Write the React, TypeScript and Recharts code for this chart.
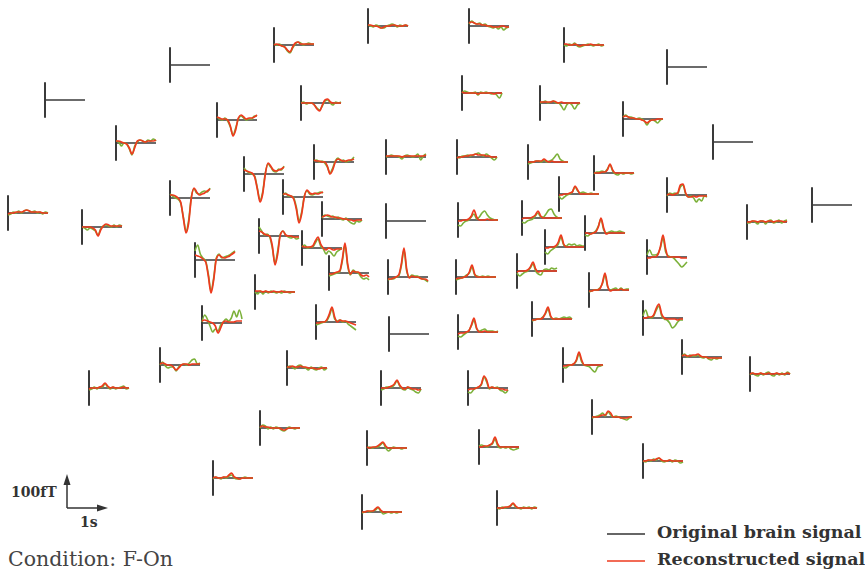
import React from 'react';
import { LineChart, Line, XAxis, YAxis, ReferenceLine } from 'recharts';

// sensor anchor = where the vertical axis meets the baseline (page px)
const sensorX = [
  45, 170, 274, 368, 469, 564, 667, 116, 217, 301, 462, 540, 623, 713,
  244, 170, 283, 314, 386, 457, 528, 559, 594, 667, 812, 8, 82, 322,
  386, 458, 522, 747, 259, 302, 545, 585, 195, 329, 388, 456, 517, 647,
  255, 589, 202, 316, 389, 458, 532, 643, 160, 89, 287, 381, 468, 563,
  682, 750, 260, 367, 479, 592, 643, 213, 362, 497,
];
const sensorY = [
  100, 65, 45, 26, 26, 45, 67, 143, 120, 103, 93, 103, 119, 142,
  174, 198, 197, 162, 157, 157, 162, 194, 173, 195, 205, 213, 227, 219,
  221, 220, 218, 222, 236, 248, 247, 233, 260, 273, 277, 277, 271, 257,
  292, 290, 323, 322, 334, 332, 319, 318, 365, 388, 368, 388, 388, 365,
  357, 374, 428, 448, 447, 417, 461, 478, 512, 508,
];

// original brain signal (fT), 16 samples over 1 s
const originalTraces: (number[] | null)[] = [
  null,
  null,
  [3, 0, 3, -3, -6, -18, -24, -9, 3, 9, 6, 0, 3, 6, 3, 3],
  [3, 0, -3, 3, 0, -6, -6, 0, 3, 6, 3, -3, 3, 0, 3, 0],
  [6, 15, 9, 6, 9, 3, 6, 0, -3, -6, -3, -9, -3, -12, -6, -3],
  [0, -3, 3, 0, 6, -3, -6, -3, 0, 3, 0, -3, 0, 3, -3, 0],
  null,
  [6, 3, -9, 0, -3, -18, -36, -9, 3, 9, 6, 3, 9, 6, 12, 6],
  [9, 3, 0, 6, -3, -21, -45, -24, 3, 12, 6, 0, 3, 3, 12, 12],
  [0, 3, -3, 0, 0, -6, -15, -21, -9, 6, 9, 0, -6, 3, 0, 3],
  [0, 6, 3, 0, 0, 3, -6, 3, 0, 3, 0, -3, 0, -6, -15, 0],
  [0, 3, 6, 0, 3, 6, 0, 0, -9, -21, -6, 0, -6, -18, -6, 0],
  [6, 12, 6, 6, 3, 0, 3, 0, -6, -18, -6, -3, -6, -12, -3, 0],
  null,
  [18, 9, 3, 0, -6, -42, -78, -54, 3, 30, 21, 9, 6, 15, 12, 24],
  [12, 6, 0, -3, -15, -57, -99, -66, 3, 27, 15, 12, 18, 21, 18, 30],
  [6, 12, 3, 3, -3, -30, -72, -45, 3, 18, 9, 6, 9, 12, 15, 12],
  [3, 6, 0, 3, -3, -15, -33, -18, 3, 12, 3, 6, 0, 3, 6, 15],
  [0, 3, 6, 3, 3, 0, -6, 3, 6, 3, 0, 3, 9, -9, 3, 9],
  [0, -3, 3, 3, 6, 3, 6, 9, 12, 6, 3, 9, 3, -3, -9, 0],
  [-6, -3, 0, 3, 3, 0, 6, 0, 3, 6, 15, 24, 9, 3, 0, 0],
  [-6, -15, -9, -3, 0, 6, 21, 9, 3, 6, 3, 0, 3, 0, 0, 0],
  [-3, 3, 3, 6, 3, 12, 24, 6, -3, -6, 0, -3, 0, 0, -3, 0],
  [-3, 6, 3, 6, 3, 24, 30, 3, -6, -3, -9, -21, -12, -18, -3, -6],
  null,
  [-6, -3, 3, 0, 6, 0, 6, 9, 6, 3, 6, 0, 3, -3, 3, 0],
  [0, -3, -9, -3, -6, -12, -24, -6, 3, 6, 3, 0, 6, 0, 6, 3],
  [3, 12, 9, 6, 9, 3, 6, 0, -3, 3, -6, -12, -15, -6, -9, -3],
  null,
  [-15, -18, -9, -3, 0, 9, 18, 3, 9, 21, 27, 15, 6, 3, 0, 0],
  [-12, -15, -9, -6, -3, 6, 15, 3, 3, 12, 24, 27, 12, 3, 0, 0],
  [-3, -3, 3, 0, -6, 3, 3, -6, 3, 6, -3, 0, 6, -3, 3, 6],
  [27, 15, 3, 6, -3, -36, -81, -45, 6, 15, 3, -3, -6, -3, -9, -6],
  [3, 9, 0, 3, 3, 15, 27, 6, -3, -18, -9, -15, -24, -12, -6, 0],
  [-15, -21, -12, -6, 0, 9, 30, 6, 3, 9, 6, 9, 3, 6, 3, 3],
  [-6, -9, -3, 0, 6, 21, 42, 9, 0, 3, 6, 3, 3, 6, 3, 0],
  [27, 45, 18, 6, -3, -42, -93, -54, 6, 18, 6, 9, 12, 15, 21, 27],
  [-9, -6, -3, 0, 3, 36, 84, 21, -6, 9, 3, 0, -12, -18, -15, -21],
  [-9, -6, -6, 0, 3, 33, 81, 18, 0, 6, 3, 3, -3, -6, -9, -15],
  [-9, -6, -3, 0, 6, 12, 30, 6, 3, 0, 3, 0, 3, 0, 0, 0],
  [-6, -15, -9, -3, 0, 9, 21, 0, -9, -12, 3, 6, 3, 9, 6, 9],
  [6, 21, 6, 6, 9, 27, 57, 15, 3, 0, -3, -12, -21, -30, -24, -15],
  [0, -6, 3, -6, 3, -3, 3, 0, -3, 0, -3, 3, 0, -3, 0, 0],
  [-6, -3, 0, 0, 6, 18, 45, 9, 0, 3, 6, 0, 6, 0, 3, 3],
  [3, 24, 12, -9, -27, -18, -24, -6, 3, 12, 6, 15, 36, 18, 39, 12],
  [-9, -6, -3, 0, 3, 18, 39, 9, 3, 6, 0, 3, -6, -12, -18, -24],
  null,
  [-12, -15, -9, -3, 3, 18, 36, 9, 3, 6, 9, 3, 3, 3, 0, 3],
  [-6, -3, 0, 0, 6, 15, 30, 6, 0, 3, 0, 3, 6, 3, 6, 0],
  [6, 24, 3, 0, 6, 24, 36, 6, -3, -6, -15, -30, -24, -12, -6, -6],
  [0, 9, -3, -9, -6, -6, -18, -6, 0, 3, 0, 6, 15, 18, 3, 6],
  [-6, -3, 3, -3, 3, 3, 12, 3, -3, 3, -3, 0, 3, 6, -3, 0],
  [0, 6, 3, -3, 6, 9, 3, 0, -6, 3, -3, -6, 0, 3, -6, 0],
  [-6, -3, 3, 3, 3, 9, 21, 6, -3, -6, 3, -3, -6, -12, -15, -3],
  [-12, -15, -6, 0, 3, 9, 33, 18, -3, 3, 0, 3, -6, -9, -15, -6],
  [-6, -9, -3, 0, 3, 12, 33, 9, 0, -3, -6, -15, -21, -6, -3, 0],
  [3, 9, 0, 6, 3, 3, 6, 0, -3, 0, -6, -9, -3, -6, -3, -3],
  [-3, 3, -3, -6, 3, -3, 3, 6, -3, -6, 3, -3, 3, -3, 6, 0],
  [0, 9, 6, -3, 3, -3, 3, 0, -6, -9, -3, 3, 0, -3, 0, 0],
  [0, 3, 0, 3, 3, 9, 15, 0, -9, -3, 3, 0, 0, -3, 0, 0],
  [3, 6, 3, 0, 6, 9, 24, 3, -3, 0, -3, 0, -6, -9, -6, -3],
  [-3, 0, 3, 6, 12, 3, 15, 6, 0, 3, 0, -3, -6, -9, -3, 0],
  [0, -3, 3, 0, 6, 3, 9, 0, -3, 0, 3, -3, 3, 0, -6, -3],
  [-3, 3, 0, -3, 3, 0, 6, 9, 0, -3, -3, 0, 3, 0, 0, 0],
  [-3, 0, 3, 0, 3, 6, 12, 3, -6, -3, 0, -3, 0, -3, 0, 0],
  [0, -3, 3, 0, 3, 6, 12, 3, 0, -3, 3, 0, 3, -3, 3, 0],
];

// reconstructed signal (fT)
const reconstructedTraces: (number[] | null)[] = [
  null,
  null,
  [0, 3, 0, -3, -6, -15, -21, -6, 6, 9, 3, 3, 3, 3, 3, 3],
  [3, 3, 0, 0, -3, -6, -3, 0, 0, 3, 3, 0, 0, 0, 3, 0],
  [9, 12, 9, 6, 6, 3, 3, 0, 0, -3, -3, -3, 0, 0, -3, -3],
  [3, 3, 0, 0, 3, 0, -3, 0, 0, 0, 3, 0, 0, 0, 0, 0],
  null,
  [6, 6, 3, 0, -3, -15, -33, -15, 6, 9, 6, 3, 6, 6, 6, 9],
  [9, 6, 3, 3, 0, -18, -48, -30, 6, 15, 9, 3, 6, 6, 9, 15],
  [0, 0, 0, 0, 0, -6, -18, -24, -6, 9, 12, 3, 0, 0, 0, 0],
  [3, 0, 0, 0, 0, 0, -3, 0, 0, 0, 0, 0, -3, 0, 0, 0],
  [3, 3, 3, 3, 3, 6, 3, 0, 3, 0, 0, 0, 0, 0, 0, 0],
  [6, 9, 6, 3, 3, 0, 0, -3, -6, -12, -6, -3, -3, 0, 0, 0],
  null,
  [12, 9, 6, 3, -9, -45, -84, -60, 0, 33, 24, 12, 9, 12, 15, 21],
  [9, 9, 6, 0, -12, -60, -105, -75, 0, 30, 18, 9, 12, 15, 21, 27],
  [9, 9, 6, 3, -6, -36, -78, -51, 0, 21, 12, 9, 12, 9, 12, 15],
  [6, 3, 3, 0, 0, -12, -36, -24, 0, 9, 6, 3, 3, 6, 6, 9],
  [3, 3, 3, 3, 3, 3, 0, 3, 3, 3, 3, 3, 3, 3, 3, 6],
  [-3, 0, 0, 3, 3, 6, 6, 9, 6, 6, 6, 3, 3, 0, 0, 0],
  [0, 0, 0, 3, 3, 3, 9, 3, 0, 3, 0, 0, 0, 0, 0, 0],
  [-3, -3, 0, 0, 3, 6, 24, 12, 0, 0, 0, 0, 0, 0, 0, 0],
  [0, 0, 0, 3, 3, 9, 27, 9, 0, 0, 0, 0, 0, 0, 0, 0],
  [0, 3, 0, 3, 6, 30, 33, 6, -6, -6, -3, -6, -3, -3, -3, -3],
  null,
  [-3, 0, 0, 3, 3, 3, 6, 9, 6, 3, 3, 3, 3, 0, 0, 0],
  [0, 0, 0, 0, -3, -9, -27, -9, 3, 9, 6, 3, 3, 3, 3, 3],
  [6, 9, 12, 9, 6, 6, 3, 3, 0, 0, -3, -3, -6, -3, -3, -3],
  null,
  [-3, -3, 0, 0, 3, 12, 30, 9, 0, 0, 0, 3, 0, 0, 0, 0],
  [-3, 0, 0, 0, 3, 9, 21, 6, 0, 0, 0, 0, 0, 0, 0, 0],
  [0, 0, 3, 3, 0, 3, 3, 0, 3, 3, 0, 3, 3, 3, 0, 3],
  [15, 12, 6, 3, 0, -30, -87, -54, 3, 15, 3, 0, 0, -3, -3, -3],
  [6, 3, 3, 3, 6, 21, 33, 12, 0, -6, 0, -3, -6, -3, -3, -3],
  [-3, -3, 0, 0, 3, 15, 36, 9, 0, 0, 0, 0, 0, 0, 0, 0],
  [0, 0, -3, 0, 3, 18, 45, 15, -3, 0, 0, 0, 0, 0, 0, 0],
  [15, 12, 9, 3, -6, -48, -99, -60, 3, 15, 9, 6, 9, 12, 18, 24],
  [-3, -3, 0, 3, 6, 42, 90, 27, -3, 6, 3, 3, -6, -9, -6, -12],
  [-6, -6, -3, 0, 6, 39, 87, 24, -3, 3, 0, 0, -3, -6, -6, -12],
  [-6, -3, -3, 0, 3, 15, 36, 9, 0, 0, 0, 0, 0, 0, 0, 0],
  [-3, 0, 0, 0, 3, 12, 27, 6, -3, 0, 0, 0, 0, 0, 0, 0],
  [-3, -3, 0, 0, 6, 30, 66, 24, 0, 0, 0, 0, 0, -3, -3, -3],
  [3, 3, 3, 0, 3, 0, 0, 3, 0, 0, 3, 0, 0, 0, 0, 0],
  [-3, -3, 0, 0, 3, 21, 51, 12, -3, 0, 0, 0, 3, 0, 0, 0],
  [6, 9, 6, 3, 0, -9, -30, -15, 3, 6, 3, 3, 3, 6, 6, 6],
  [-3, -3, 0, 0, 6, 24, 45, 15, 0, 6, 3, 3, 0, -3, -6, -9],
  null,
  [-6, -3, -3, 0, 3, 21, 42, 12, 0, 0, 3, 0, 0, 0, 0, 0],
  [-3, -3, 0, 0, 3, 18, 36, 9, 0, 0, 0, 0, 0, 0, 0, 0],
  [0, 0, 3, 3, 9, 30, 42, 12, 0, -3, -3, -3, -3, -6, -3, -3],
  [3, 6, 3, 0, 0, -6, -15, -9, 0, 3, 3, 0, 3, 3, 3, 3],
  [-3, 0, 0, 0, 3, 6, 15, 6, 0, 3, 0, 0, 0, 3, 0, 0],
  [3, 3, 6, 3, 3, 6, 3, 3, 0, 0, 0, -3, -3, 0, 0, 0],
  [0, 0, 0, 3, 6, 12, 24, 9, 0, -3, 3, 0, -3, -3, -6, -3],
  [-6, -3, -3, 0, 3, 12, 36, 24, 0, 3, 0, 0, -3, -3, -6, -6],
  [-3, -3, 0, 0, 3, 15, 39, 15, 0, 0, 0, 0, 0, 0, 0, 0],
  [3, 6, 3, 3, 6, 6, 9, 3, 0, 0, -3, -3, -3, -3, -3, -3],
  [0, 3, 0, 0, 3, 0, 0, 3, 0, 0, 3, 0, 0, 0, 3, 0],
  [3, 6, 3, 3, 0, 0, 0, 0, -3, -6, -3, 0, 0, 0, 0, 0],
  [3, 0, 3, 3, 6, 12, 18, 6, 0, 0, 0, 0, 0, 0, 0, 0],
  [0, 0, 3, 3, 6, 12, 30, 9, 0, 0, 0, 0, 0, 0, 0, 0],
  [0, 0, 0, 3, 6, 6, 18, 12, 0, 0, 0, -3, -3, -3, 0, 0],
  [0, 0, 3, 3, 3, 6, 9, 3, 0, 0, 3, 0, 0, 0, 0, 0],
  [0, 3, 0, 0, 3, 3, 9, 15, 3, 0, -3, 0, 0, 0, 0, 0],
  [0, 0, 3, 3, 3, 9, 15, 6, 0, 0, 0, 0, 0, 0, 0, 0],
  [0, 0, 0, 3, 3, 6, 15, 6, 0, 0, 0, 0, 0, 0, 0, 0],
];

const AXIS_COLOR = '#3a3a3a';
const GREEN = '#7cb13a';
const RED = '#ee3a1e';
const SERIF = '"DejaVu Serif", "Liberation Serif", serif';

const Sensor = (props: { x: number; y: number; green: number[] | null; red: number[] | null }) => {
  const { x, y, green, red } = props;
  const rows = green && red
    ? green.map((g, i) => ({ t: i, g, r: red[i] }))
    : [{ t: 0 }, { t: 15 }];
  return (
    <div style={{ position: 'absolute', left: x - 2, top: y - 60 }}>
      <LineChart width={46} height={120} data={rows} margin={{ top: 0, right: 4, bottom: 0, left: 2 }}>
        <XAxis dataKey="t" type="number" domain={[0, 15]} hide />
        <YAxis type="number" domain={[-180, 180]} hide allowDataOverflow />
        <ReferenceLine y={0} stroke={AXIS_COLOR} strokeWidth={1.6} />
        <ReferenceLine
          segment={[{ x: 0, y: -53 }, { x: 0, y: 53 }]}
          stroke={AXIS_COLOR}
          strokeWidth={2}
        />
        {green && (
          <Line dataKey="g" type="monotone" stroke={GREEN} strokeWidth={1.6} dot={false} isAnimationActive={false} />
        )}
        {red && (
          <Line dataKey="r" type="monotone" stroke={RED} strokeWidth={1.7} dot={false} isAnimationActive={false} />
        )}
      </LineChart>
    </div>
  );
};

const App = () => {
  return (
    <div style={{ position: 'absolute', left: 0, top: 0, width: 865, height: 571, background: '#fff', overflow: 'hidden' }}>
      {sensorX.map((sx, i) => (
        <Sensor key={`s-${i}`} x={sx} y={sensorY[i]} green={originalTraces[i]} red={reconstructedTraces[i]} />
      ))}

      {/* scale bar and legend keys */}
      <svg width={865} height={571} style={{ position: 'absolute', left: 0, top: 0, pointerEvents: 'none' }}>
        <line x1={67} y1={508} x2={67} y2={482} stroke="#333" strokeWidth={1.5} />
        <polygon points="67,474 63.5,485 70.5,485" fill="#333" />
        <line x1={67} y1={508} x2={100} y2={508} stroke="#333" strokeWidth={1.5} />
        <polygon points="108,508 97,504.5 97,511.5" fill="#333" />
        <line x1={607} y1={534} x2={645} y2={534} stroke="#333" strokeWidth={1.5} />
        <line x1={607} y1={561} x2={645} y2={561} stroke={RED} strokeWidth={1.5} />
      </svg>
      <div style={{ position: 'absolute', left: 11, top: 484, fontFamily: SERIF, fontWeight: 'bold', fontSize: 14, color: '#333' }}>100fT</div>
      <div style={{ position: 'absolute', left: 80, top: 514, fontFamily: SERIF, fontWeight: 'bold', fontSize: 14, color: '#333' }}>1s</div>
      <div style={{ position: 'absolute', left: 8, top: 547, fontFamily: SERIF, fontSize: 20.5, color: '#444', whiteSpace: 'nowrap' }}>Condition: F-On</div>
      <div style={{ position: 'absolute', left: 657, top: 522, fontFamily: SERIF, fontWeight: 'bold', fontSize: 17.5, color: '#333', whiteSpace: 'nowrap' }}>Original brain signal</div>
      <div style={{ position: 'absolute', left: 657, top: 549, fontFamily: SERIF, fontWeight: 'bold', fontSize: 17.5, color: '#333', whiteSpace: 'nowrap' }}>Reconstructed signal</div>
    </div>
  );
};

export default App;
